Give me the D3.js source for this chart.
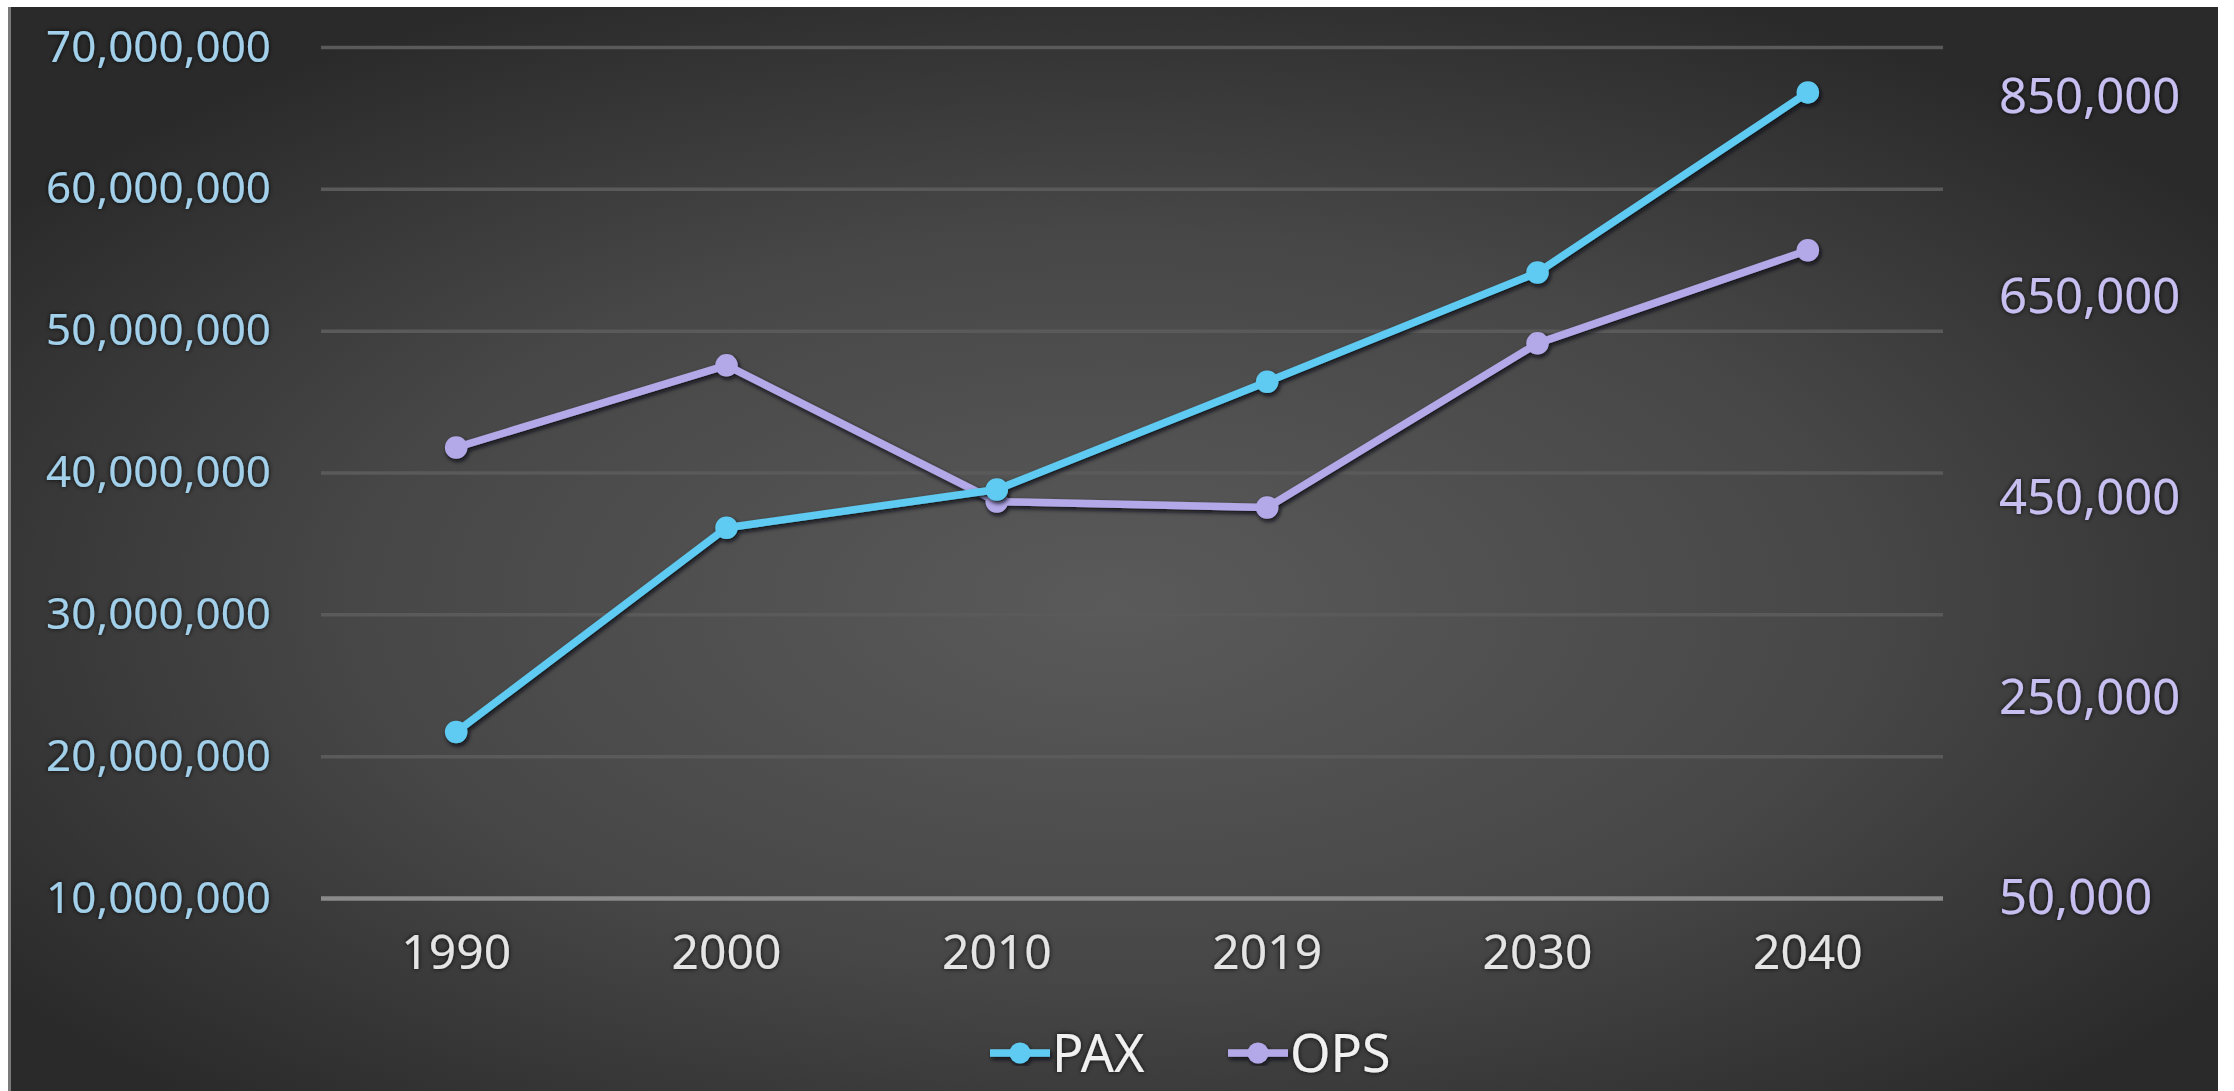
<!DOCTYPE html>
<html>
<head>
<meta charset="utf-8">
<script src="https://cdn.jsdelivr.net/npm/d3@7"></script>
<style>
  html, body { margin: 0; padding: 0; background: #ffffff; }
  svg { display: block; }
  text { font-family: "Noto Sans", "DejaVu Sans", sans-serif; }
</style>
</head>
<body>
<svg id="chart" width="2234" height="1091"></svg>
<script>
// ---- data ----
const years = ["1990", "2000", "2010", "2019", "2030", "2040"];
const paxValues = [21700000, 36100000, 38800000, 46400000, 54100000, 66800000];
const opsValues = [500000, 582000, 446000, 440000, 604000, 697000];
const leftTicks = [10000000, 20000000, 30000000, 40000000, 50000000, 60000000, 70000000];
const rightTicks = [50000, 250000, 450000, 650000, 850000];
const seriesNames = ["PAX", "OPS"];

// ---- layout ----
const W = 2234, H = 1091;
const plot = { left: 321, right: 1943, top: 47, bottom: 898 };
const colors = { PAX: "#5fcbf2", OPS: "#b3a9e8" };

const svg = d3.select("#chart");
const defs = svg.append("defs");

const grad = defs.append("radialGradient")
  .attr("id", "bg").attr("cx", "50%").attr("cy", "55%").attr("r", "62%");
grad.append("stop").attr("offset", "0%").attr("stop-color", "#5a5a5a");
grad.append("stop").attr("offset", "55%").attr("stop-color", "#474747");
grad.append("stop").attr("offset", "100%").attr("stop-color", "#2a2a2a");

const shadow = defs.append("filter").attr("id", "shadow")
  .attr("x", "-10%").attr("y", "-10%").attr("width", "120%").attr("height", "120%");
shadow.append("feDropShadow").attr("dx", 1.5).attr("dy", 2.5)
  .attr("stdDeviation", 2.0).attr("flood-color", "#0a0a12").attr("flood-opacity", 1);

const glow = defs.append("filter").attr("id", "glow")
  .attr("x", "-10%").attr("y", "-20%").attr("width", "120%").attr("height", "140%");
glow.append("feDropShadow").attr("dx", 0).attr("dy", 0)
  .attr("stdDeviation", 2.5).attr("flood-color", "#101010").attr("flood-opacity", 0.85);

// background (white margins top/left/right)
svg.append("rect").attr("x", 8).attr("y", 7).attr("width", W - 8 - 16).attr("height", H - 7)
  .attr("fill", "url(#bg)");
svg.append("rect").attr("x", 8).attr("y", 7).attr("width", 3).attr("height", H - 7)
  .attr("fill", "#7a7a7a");

// ---- scales ----
const x = d3.scaleBand().domain(years).range([plot.left, plot.right]);
const xc = d => x(d) + x.bandwidth() / 2;
const yL = d3.scaleLinear().domain([10000000, 70000000]).range([plot.bottom, plot.top]);
const yR = d3.scaleLinear().domain([50000, 900000]).range([plot.bottom, plot.top]);
const fmt = d3.format(",");

// gridlines
const grid = svg.append("g").attr("transform", `translate(${plot.left},0)`)
  .call(d3.axisLeft(yL).tickValues(leftTicks).tickSize(-(plot.right - plot.left)).tickFormat(""));
grid.select(".domain").remove();
grid.selectAll(".tick line")
  .attr("stroke", d => d === 10000000 ? "#8a8a8a" : "#5a5a5a")
  .attr("stroke-width", d => d === 10000000 ? 4.5 : 3.5);

// left axis labels
const axL = svg.append("g").attr("transform", `translate(${plot.left},0)`)
  .call(d3.axisLeft(yL).tickValues(leftTicks).tickSize(0).tickPadding(50).tickFormat(fmt));
axL.select(".domain").remove();
axL.selectAll("text").attr("fill", "#a2d0ea").attr("font-size", 44)
  .attr("font-family", "'Noto Sans', sans-serif").attr("filter", "url(#glow)");

// right axis labels
const axR = svg.append("g").attr("transform", `translate(${plot.right},0)`)
  .call(d3.axisRight(yR).tickValues(rightTicks).tickSize(0).tickPadding(56).tickFormat(fmt));
axR.select(".domain").remove();
axR.selectAll("text").attr("fill", "#c6bff0").attr("font-size", 49)
  .attr("font-family", "'Noto Sans', sans-serif").attr("filter", "url(#glow)");

// x axis labels
const axX = svg.append("g").attr("transform", `translate(0,${plot.bottom})`)
  .call(d3.axisBottom(x).tickSize(0).tickPadding(0));
axX.select(".domain").remove();
axX.selectAll("text").attr("fill", "#e4e4e4").attr("font-size", 48)
  .attr("y", 54).attr("dy", "0.36em")
  .attr("font-family", "'Noto Sans', sans-serif").attr("filter", "url(#glow)");

// ---- series ----
const series = [
  { name: "PAX", values: paxValues, y: yL },
  { name: "OPS", values: opsValues, y: yR }
];
const line = d3.line();
const order = [series[1], series[0]];
order.forEach(s => {
  const pts = years.map((yr, i) => [xc(yr), s.y(s.values[i])]);
  const g = svg.append("g").attr("filter", "url(#shadow)");
  g.append("path").attr("d", line(pts)).attr("fill", "none")
    .attr("stroke", colors[s.name]).attr("stroke-width", 7.5)
    .attr("stroke-linejoin", "round");
  g.selectAll("circle").data(pts).join("circle")
    .attr("cx", d => d[0]).attr("cy", d => d[1]).attr("r", 10.5)
    .attr("fill", colors[s.name]).attr("stroke", colors[s.name]).attr("stroke-width", 1.5);
});

// ---- legend ----
const legendItems = [
  { name: seriesNames[0], x0: 990, tx: 1052 },
  { name: seriesNames[1], x0: 1228, tx: 1290 }
];
const ly = 1053;
legendItems.forEach(it => {
  const g = svg.append("g");
  const m = g.append("g").attr("filter", "url(#shadow)");
  m.append("line").attr("x1", it.x0).attr("x2", it.x0 + 60).attr("y1", ly).attr("y2", ly)
    .attr("stroke", colors[it.name]).attr("stroke-width", 7.5);
  m.append("circle").attr("cx", it.x0 + 30).attr("cy", ly).attr("r", 10.5)
    .attr("fill", colors[it.name]);
  g.append("text").attr("x", it.tx).attr("y", ly).attr("dy", "0.36em")
    .attr("fill", "#f0f0f0").attr("font-size", 52).attr("filter", "url(#glow)")
    .text(it.name);
});
</script>
</body>
</html>
